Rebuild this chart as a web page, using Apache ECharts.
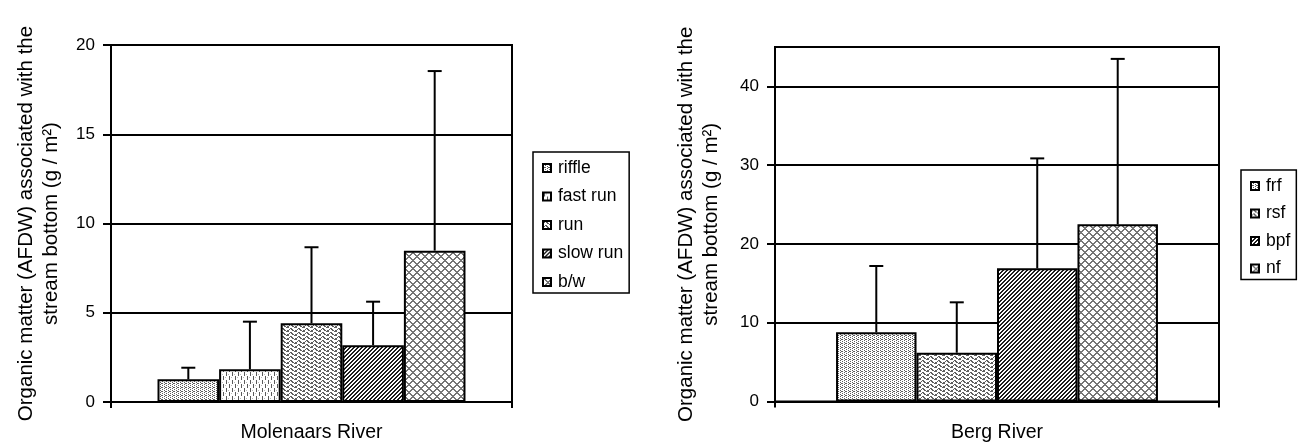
<!DOCTYPE html>
<html>
<head>
<meta charset="utf-8">
<script src="https://cdn.jsdelivr.net/npm/echarts@6/dist/echarts.min.js"></script>
<style>
  html, body { margin: 0; padding: 0; background: #fff; }
  #chart { width: 1304px; height: 446px; }
</style>
</head>
<body>
<div id="chart"></div>
<script>
// Molenaars River: habitat means and standard deviations (g / m²)
const molenaarsHabitats = ['riffle', 'fast run', 'run', 'slow run', 'b/w'];
const molenaarsMeans = [1.27, 1.83, 4.41, 3.18, 8.48];
const molenaarsSD = [0.65, 2.67, 4.26, 2.44, 10.06];
const molenaarsTicks = [0, 5, 10, 15, 20];

// Berg River: site means and standard deviations (g / m²)
const bergSites = ['frf', 'rsf', 'bpf', 'nf'];
const bergMeans = [8.78, 6.19, 16.9, 22.49];
const bergSD = [8.42, 6.4, 13.96, 21.0];
const bergTicks = [0, 10, 20, 30, 40];
const bergAxisMax = 45;

const yTitle = 'Organic matter (AFDW) associated with the\nstream bottom (g / m²)';
const FONT = '"Liberation Sans", Arial, sans-serif';

// --- small bitmap tiles used as hatch fills ---
function tile(w, h, draw) {
  const c = document.createElement('canvas');
  c.width = w; c.height = h;
  const ctx = c.getContext('2d');
  ctx.fillStyle = '#fff';
  ctx.fillRect(0, 0, w, h);
  draw(ctx, w, h);
  return { image: c, repeat: 'repeat' };
}
function dots(color, pts) {
  return (ctx) => { ctx.fillStyle = color; pts.forEach(([x, y]) => ctx.fillRect(x, y, 1, 1)); };
}
function byRule(color, rule) {
  return (ctx, w, h) => {
    ctx.fillStyle = color;
    for (let y = 0; y < h; y++) for (let x = 0; x < w; x++) if (rule(x, y)) ctx.fillRect(x, y, 1, 1);
  };
}

const fills = {
  dotted: tile(4, 4, dots('#5e5e5e', [[0, 0], [2, 1], [0, 2], [2, 3], [1, 3]])),
  vdash: tile(6, 8, (ctx) => {
    ctx.fillStyle = '#5a5a5a';
    ctx.fillRect(1, 0, 1, 4);
    ctx.fillRect(4, 4, 1, 4);
    ctx.fillStyle = '#bbb';
    ctx.fillRect(3, 1, 1, 1);
    ctx.fillRect(0, 6, 1, 1);
  }),
  wave: tile(8, 4, dots('#5f5f5f', [[0, 2], [1, 1], [2, 0], [3, 0], [4, 1], [5, 2], [6, 3], [7, 3],
                                     [0, 3], [3, 1], [4, 2], [7, 2]])),
  diagonal: tile(4, 4, byRule('#1e1e1e', (x, y) => ((x + y) % 4) < 2)),
  lattice: tile(8, 8, byRule('#767676', (x, y) => ((x + y) % 8) < 2 || ((x - y + 8) % 8) < 2))
};

const molenaarsFills = [fills.dotted, fills.vdash, fills.wave, fills.diagonal, fills.lattice];
const bergFills = [fills.dotted, fills.wave, fills.diagonal, fills.lattice];

const molenaarsGap = 0.232;
const bergGap = 0.275;

function barSeries(names, means, fillList, axisIdx, gap) {
  return names.map((name, i) => ({
    name,
    type: 'bar',
    xAxisIndex: axisIdx,
    yAxisIndex: axisIdx,
    data: [means[i]],
    barGap: '0%',
    barCategoryGap: (gap * 100) + '%',
    itemStyle: { color: fillList[i], borderColor: '#000', borderWidth: 2 },
    emphasis: { disabled: true },
    animation: false
  }));
}

// Error bars placed at the centre of each bar within the category band
function errorSeries(means, sds, axisIdx, gap) {
  const n = means.length;
  return {
    type: 'custom',
    xAxisIndex: axisIdx,
    yAxisIndex: axisIdx,
    z: 5,
    animation: false,
    silent: true,
    data: means.map((m, i) => [0, m, sds[i], i]),
    renderItem: (params, api) => {
      const v = api.value(1), e = api.value(2), i = api.value(3);
      const base = api.coord([0, v]);
      const top = api.coord([0, v + e]);
      const band = api.size([1, 0])[0];
      const group = band * (1 - gap);
      const x = base[0] - group / 2 + (i + 0.5) * group / n;
      const half = 7;
      const style = { stroke: '#000', lineWidth: 2 };
      return {
        type: 'group',
        children: [
          { type: 'line', shape: { x1: x, y1: base[1], x2: x, y2: top[1] }, style },
          { type: 'line', shape: { x1: x - half, y1: top[1], x2: x + half, y2: top[1] }, style }
        ]
      };
    }
  };
}

function xAxisFor(label, gridIndex) {
  return {
    type: 'category',
    gridIndex,
    data: [label],
    axisLine: { lineStyle: { color: '#000', width: 2 } },
    axisTick: { show: true, length: 6, lineStyle: { color: '#000', width: 2 } },
    axisLabel: { color: '#000', fontSize: 19.5, fontFamily: FONT, margin: 21 }
  };
}

function yAxisFor(ticks, max, gridIndex, gap, hideMax) {
  return {
    type: 'value',
    gridIndex,
    min: ticks[0],
    max,
    interval: ticks[1] - ticks[0],
    name: yTitle,
    nameLocation: 'middle',
    nameRotate: 90,
    nameGap: gap,
    nameTextStyle: { color: '#000', fontSize: 20.5, lineHeight: 25, fontFamily: FONT, align: 'center' },
    axisLine: { show: true, lineStyle: { color: '#000', width: 2 } },
    axisTick: { show: true, length: 8, lineStyle: { color: '#000', width: 2 } },
    axisLabel: { color: '#000', fontSize: 17, fontFamily: FONT, margin: 16, showMaxLabel: !hideMax },
    splitLine: { show: true, lineStyle: { color: '#000', width: 2 } }
  };
}

function legendFor(names, left, top, gapY) {
  return {
    orient: 'vertical',
    left, top,
    data: names,
    icon: 'rect',
    itemWidth: 8,
    itemHeight: 8,
    itemGap: gapY,
    padding: [6, 6, 1, 9],
    borderColor: '#000',
    borderWidth: 1.5,
    selectedMode: false,
    textStyle: { color: '#000', fontSize: 17.5, fontFamily: FONT, lineHeight: 20, padding: [0, 0, 0, 2] }
  };
}

const chart = echarts.init(document.getElementById('chart'), null, { renderer: 'canvas' });
chart.setOption({
  backgroundColor: '#fff',
  animation: false,
  grid: [
    { left: 111, right: 792, top: 45, bottom: 44, show: true, borderColor: '#000', borderWidth: 2, containLabel: false },
    { left: 775, right: 85, top: 47, bottom: 44.5, show: true, borderColor: '#000', borderWidth: 2, containLabel: false }
  ],
  xAxis: [xAxisFor('Molenaars River', 0), xAxisFor('Berg River', 1)],
  yAxis: [
    yAxisFor(molenaarsTicks, molenaarsTicks[molenaarsTicks.length - 1], 0, 47, false),
    yAxisFor(bergTicks, bergAxisMax, 1, 51, true)
  ],
  legend: [
    legendFor(molenaarsHabitats, 533, 152, 8.5),
    legendFor(bergSites, 1241, 170, 7.5)
  ],
  series: [
    ...barSeries(molenaarsHabitats, molenaarsMeans, molenaarsFills, 0, molenaarsGap),
    ...barSeries(bergSites, bergMeans, bergFills, 1, bergGap),
    errorSeries(molenaarsMeans, molenaarsSD, 0, molenaarsGap),
    errorSeries(bergMeans, bergSD, 1, bergGap)
  ]
});
</script>
</body>
</html>
